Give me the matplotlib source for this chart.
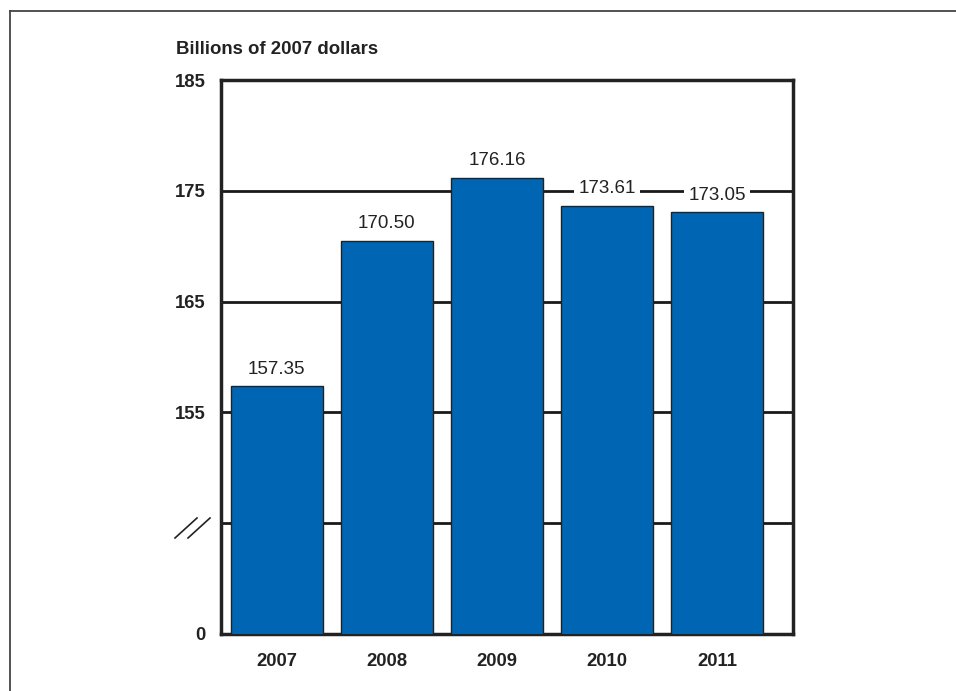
import numpy as np
import matplotlib.pyplot as plt
from matplotlib.lines import Line2D

plt.rcParams['font.family'] = ['Liberation Sans', 'DejaVu Sans']

years = ['2007', '2008', '2009', '2010', '2011']
values = [157.35, 170.50, 176.16, 173.61, 173.05]
ytick_vals = [135, 145, 155, 165, 175, 185]
ytick_labels = ['0', '', '155', '165', '175', '185']

bar_color = '#0066b3'

fig = plt.figure(figsize=(9.56, 6.91), dpi=100)
ax = fig.add_axes([0.2312, 0.0825, 0.5983, 0.8017])

x = np.arange(len(years))
ax.bar(x, values, width=0.83, color=bar_color, edgecolor='#222222', linewidth=1.0, zorder=3)

# gridlines behind bars
for v in ytick_vals[1:-1]:
    ax.axhline(v, color='#1a1a1a', linewidth=2, zorder=1)

for xi, v in zip(x, values):
    ax.text(xi, v + 0.8, f'{v:.2f}', ha='center', va='bottom', fontsize=13.5,
            color='#222222', zorder=4,
            bbox=dict(facecolor='white', edgecolor='none', pad=3))

ax.set_xlim(-0.507, 4.69)
ax.set_ylim(135, 185)
ax.set_yticks(ytick_vals)
ax.set_yticklabels(ytick_labels, fontsize=13.3, fontweight='bold', color='#222222')
ax.set_xticks(x)
ax.set_xticklabels(years, fontsize=13.3, fontweight='bold', color='#222222')
ax.tick_params(axis='y', length=0, pad=11)
ax.tick_params(axis='x', length=0, pad=14)

for s in ax.spines.values():
    s.set_linewidth(2.5)
    s.set_color('#222222')

ax.text(-0.079, 1.04, 'Billions of 2007 dollars', transform=ax.transAxes,
        fontsize=13.4, fontweight='bold', color='#222222', ha='left', va='bottom')

# axis break marks
for dx in [0.0, 13.0]:
    fig.add_artist(Line2D([(175 + dx) / 956, (197 + dx) / 956],
                          [1 - 538 / 691, 1 - 518 / 691],
                          color='#222222', linewidth=1.2))

# outer frame (partly visible)
fig.add_artist(Line2D([10 / 956, 10 / 956], [0, 1 - 11 / 691], color='#444444', linewidth=1.3))
fig.add_artist(Line2D([10 / 956, 1], [1 - 11 / 691, 1 - 11 / 691], color='#444444', linewidth=1.3))

fig.savefig('out.png', dpi=100)
